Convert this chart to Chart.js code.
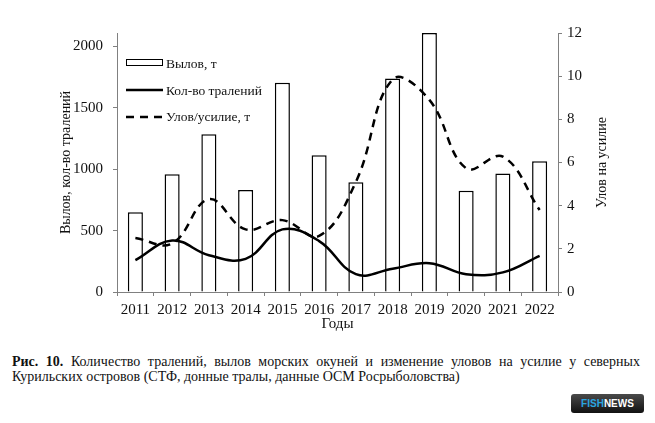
<!DOCTYPE html>
<html>
<head>
<meta charset="utf-8">
<script src="https://cdn.jsdelivr.net/npm/chart.js@4.4.1/dist/chart.umd.min.js"></script>
<style>
  html, body { margin: 0; padding: 0; background: #fff; }
  #wrap { position: relative; width: 655px; height: 423px; overflow: hidden; }
  #chart { position: absolute; left: 0; top: 0; }
  .cap { position: absolute; left: 12px; font-family: "Liberation Serif", "Times New Roman", serif;
         font-size: 14px; line-height: 16px; color: #111; white-space: nowrap; }
  #cap1 { top: 354px; width: 628px; text-align: justify; text-align-last: justify; white-space: normal; }
  #cap2 { top: 369px; }
  #logo { position: absolute; left: 571px; top: 394px; width: 73px; height: 19px; border-radius: 3px;
          background: linear-gradient(#4a4a4a, #111); font-family: "Liberation Sans", Arial, sans-serif;
          font-weight: bold; font-size: 10px; line-height: 19px; text-align: center; color: #fff; }
  #logo span { color: #2aa5e0; }
</style>
</head>
<body>
<div id="wrap">
  <canvas id="chart" width="655" height="340"></canvas>
  <div class="cap" id="cap1"><b>Рис. 10.</b> Количество тралений, вылов морских окуней и изменение уловов на усилие у северных</div>
  <div class="cap" id="cap2">Курильских островов (СТФ, донные тралы, данные ОСМ Росрыболовства)</div>
  <div id="logo"><span>FISH</span>NEWS</div>
</div>
<script>
const years = ["2011", "2012", "2013", "2014", "2015", "2016", "2017", "2018", "2019", "2020", "2021", "2022"];
const catchTons = [650, 960, 1285, 830, 1705, 1115, 895, 1740, 2110, 825, 965, 1065];
const trawlCount = [259, 420, 300, 270, 510, 415, 145, 190, 235, 145, 160, 295];
const catchPerEffort = [2.5, 2.25, 4.3, 2.9, 3.33, 2.6, 5.1, 9.85, 8.9, 5.73, 6.27, 3.8];
const leftTicks = [0, 500, 1000, 1500, 2000];
const rightTicks = [0, 2, 4, 6, 8, 10, 12];

const FONT = "'Liberation Serif', 'Times New Roman', serif";
const AXIS = "#808080";

Chart.defaults.font.family = FONT;
Chart.defaults.font.size = 15;
Chart.defaults.color = "#111";

// legend + axis titles drawn by hand
const decorations = {
    id: "decorations",
    afterDraw(chart) {
        const ctx = chart.ctx;
        const area = chart.chartArea;
        ctx.save();
        ctx.fillStyle = "#111";
        ctx.textBaseline = "middle";

        // legend
        ctx.font = "13.5px " + FONT;
        ctx.textAlign = "left";
        ctx.strokeStyle = "#000";

        ctx.lineWidth = 1;
        ctx.fillStyle = "#fff";
        ctx.fillRect(126.5, 59.5, 36, 6);
        ctx.strokeRect(126.5, 59.5, 36, 6);
        ctx.fillStyle = "#111";
        ctx.fillText("Вылов, т", 166, 64);

        ctx.lineWidth = 2.5;
        ctx.beginPath();
        ctx.moveTo(126, 90);
        ctx.lineTo(163, 90);
        ctx.stroke();
        ctx.fillText("Кол-во тралений", 166, 91);

        ctx.setLineDash([8, 6]);
        ctx.beginPath();
        ctx.moveTo(126, 117);
        ctx.lineTo(163, 117);
        ctx.stroke();
        ctx.setLineDash([]);
        ctx.fillText("Улов/усилие, т", 166, 117);

        // axis titles
        ctx.font = "14px " + FONT;
        ctx.textAlign = "center";
        const midY = (area.top + area.bottom) / 2;
        ctx.save();
        ctx.translate(66, midY);
        ctx.rotate(-Math.PI / 2);
        ctx.fillText("Вылов, кол-во тралений", 0, 0);
        ctx.restore();

        ctx.save();
        ctx.translate(602, midY);
        ctx.rotate(-Math.PI / 2);
        ctx.fillText("Улов на усилие", 0, 0);
        ctx.restore();

        ctx.font = "15px " + FONT;
        ctx.fillText("Годы", (area.left + area.right) / 2, 324);
        ctx.restore();
    }
};

const ctx = document.getElementById("chart").getContext("2d");

new Chart(ctx, {
    data: {
        labels: years,
        datasets: [
            {
                type: "line",
                label: "Кол-во тралений",
                data: trawlCount,
                yAxisID: "y",
                borderColor: "#000",
                borderWidth: 2.5,
                pointRadius: 0,
                tension: 0.4,
                fill: false,
                order: 0
            },
            {
                type: "line",
                label: "Улов/усилие, т",
                data: catchPerEffort,
                yAxisID: "y1",
                borderColor: "#000",
                borderWidth: 2.5,
                borderDash: [8, 6],
                pointRadius: 0,
                tension: 0.4,
                fill: false,
                order: 0
            },
            {
                type: "bar",
                label: "Вылов, т",
                data: catchTons,
                yAxisID: "y",
                backgroundColor: "#fff",
                borderColor: "#000",
                borderWidth: 1.5,
                categoryPercentage: 1,
                barPercentage: 0.41,
                order: 1
            }
        ]
    },
    options: {
        responsive: false,
        animation: false,
        layout: {
            padding: { top: 33, left: 0, right: 0, bottom: 0 }
        },
        plugins: {
            legend: { display: false },
            tooltip: { enabled: false }
        },
        scales: {
            x: {
                offset: true,
                grid: {
                    offset: true,
                    drawOnChartArea: false,
                    drawTicks: true,
                    tickLength: 4,
                    color: AXIS
                },
                border: { display: true, color: AXIS, width: 1 },
                ticks: { padding: 5, maxRotation: 0, font: { size: 15 } },
                afterFit(scale) { scale.height = 48; }
            },
            y: {
                position: "left",
                min: 0,
                max: 2110,
                afterBuildTicks(scale) {
                    scale.ticks = leftTicks.map(v => ({ value: v }));
                },
                grid: {
                    drawOnChartArea: false,
                    drawTicks: true,
                    tickLength: 4,
                    color: AXIS
                },
                border: { display: true, color: AXIS, width: 1 },
                ticks: { padding: 10, font: { size: 15 }, callback: v => String(v) },
                afterFit(scale) { scale.width = 117; }
            },
            y1: {
                position: "right",
                min: 0,
                max: 12,
                afterBuildTicks(scale) {
                    scale.ticks = rightTicks.map(v => ({ value: v }));
                },
                grid: {
                    drawOnChartArea: false,
                    drawTicks: true,
                    tickLength: 4,
                    color: AXIS
                },
                border: { display: true, color: AXIS, width: 1 },
                ticks: { padding: 5, font: { size: 15 }, callback: v => String(v) },
                afterFit(scale) { scale.width = 97; }
            }
        }
    },
    plugins: [decorations]
});
</script>
</body>
</html>
